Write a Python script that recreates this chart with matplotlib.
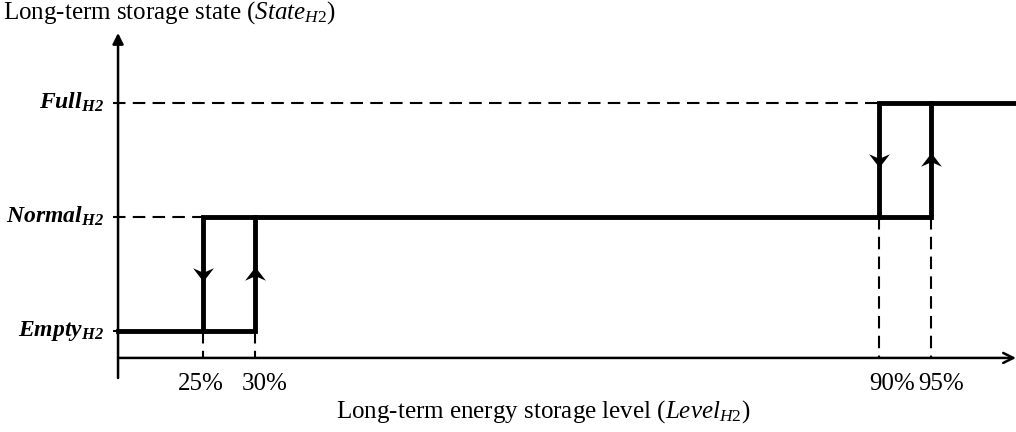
import matplotlib
matplotlib.use('Agg')

import matplotlib.pyplot as plt
from matplotlib.path import Path

# hysteresis thresholds (%) and the state change at each one
trans_level = [25, 30, 90, 95]
trans_from = [1, 0, 2, 1]
trans_to = [0, 1, 1, 2]
tick_labels = ['25%', '30%', '90%', '95%']

state_values = [0, 1, 2]
state_names = [r'$\mathbfit{Empty}_{\mathbfit{H2}}$',
               r'$\mathbfit{Normal}_{\mathbfit{H2}}$',
               r'$\mathbfit{Full}_{\mathbfit{H2}}$']

ylabel = r'Long-term storage state ($\mathit{State}_{\mathit{H2}}$)'
xlabel = r'Long-term energy storage level ($\mathit{Level}_{\mathit{H2}}$)'

plt.rcParams['font.family'] = 'Liberation Serif'
plt.rcParams['mathtext.fontset'] = 'custom'
plt.rcParams['mathtext.rm'] = 'Liberation Serif'
plt.rcParams['mathtext.it'] = 'Liberation Serif:italic'
plt.rcParams['mathtext.bf'] = 'Liberation Serif:bold'
plt.rcParams['mathtext.bfit'] = 'Liberation Serif:bold:italic'

# schematic frame (data units)
xmin, xmax = 5.455, 103.19
ymin, ymax = -0.89, 2.901
x_axis_y = -0.24
y_axis_x = 16.81
label_x = 15.46
dash_start = 16.33
label_shift = [-2, 10, 13, 10]   # pixel nudges of the tick labels

fig = plt.figure(figsize=(10.16, 4.32), dpi=100)
ax = fig.add_axes([0, 0, 1, 1])
ax.set_xlim(xmin, xmax)
ax.set_ylim(ymin, ymax)
ax.axis('off')

# axes with arrows
ax.annotate('', xy=(xmax, x_axis_y), xytext=(y_axis_x, x_axis_y),
            arrowprops=dict(arrowstyle='->', lw=1.8, color='black',
                            shrinkA=0, shrinkB=0, mutation_scale=18))
ax.annotate('', xy=(y_axis_x, 2.612), xytext=(y_axis_x, -0.416),
            arrowprops=dict(arrowstyle='-|>', lw=1.8, color='black',
                            shrinkA=0, shrinkB=0, mutation_scale=16))

lw = 3.5
ax.plot([y_axis_x, trans_level[1], trans_level[1], trans_level[3], trans_level[3], xmax],
        [0, 0, 1, 1, 2, 2], color='black', lw=lw, solid_joinstyle='miter')
ax.plot([trans_level[0], trans_level[0], trans_level[1]], [0, 1, 1],
        color='black', lw=lw, solid_joinstyle='miter')
ax.plot([trans_level[2], trans_level[2], trans_level[3]], [1, 2, 2],
        color='black', lw=lw, solid_joinstyle='miter')

# barbed arrow heads in the middle of each jump
up_head = Path([(0, 0.35), (-0.5, -0.3), (0, -0.08), (0.5, -0.3), (0, 0.35)],
               [Path.MOVETO, Path.LINETO, Path.LINETO, Path.LINETO, Path.CLOSEPOLY])
down_head = Path([(0, -0.35), (-0.5, 0.3), (0, 0.08), (0.5, 0.3), (0, -0.35)],
                 [Path.MOVETO, Path.LINETO, Path.LINETO, Path.LINETO, Path.CLOSEPOLY])
for lv, a, b in zip(trans_level, trans_from, trans_to):
    mid = (a + b) / 2.0
    ax.plot([lv], [mid], marker=up_head if b > a else down_head,
            markersize=15, color='black', markeredgewidth=0)

# dashed guide lines
left_end = {0: y_axis_x, 1: trans_level[0], 2: trans_level[2]}
for s in state_values:
    ax.plot([dash_start, left_end[s]], [s, s], color='black', lw=1.5,
            linestyle=(0, (6, 3.5)))
for lv, a, b in zip(trans_level, trans_from, trans_to):
    ax.plot([lv, lv], [min(a, b), x_axis_y], color='black', lw=1.5,
            linestyle=(0, (6, 3.5)))

# labels
for s, name in zip(state_values, state_names):
    ax.text(label_x, s, name, ha='right', va='center', fontsize=17)
for lv, t, dx in zip(trans_level, tick_labels, label_shift):
    ax.annotate(t, xy=(lv, -0.52), xytext=(dx, 0), textcoords='offset pixels',
                ha='center', va='baseline', fontsize=18)

ax.text(0.003, 0.958, ylabel, transform=ax.transAxes, ha='left', va='baseline', fontsize=18)
ax.text(0.535, 0.0324, xlabel, transform=ax.transAxes, ha='center', va='baseline', fontsize=18)

fig.savefig('out.png', dpi=100)
